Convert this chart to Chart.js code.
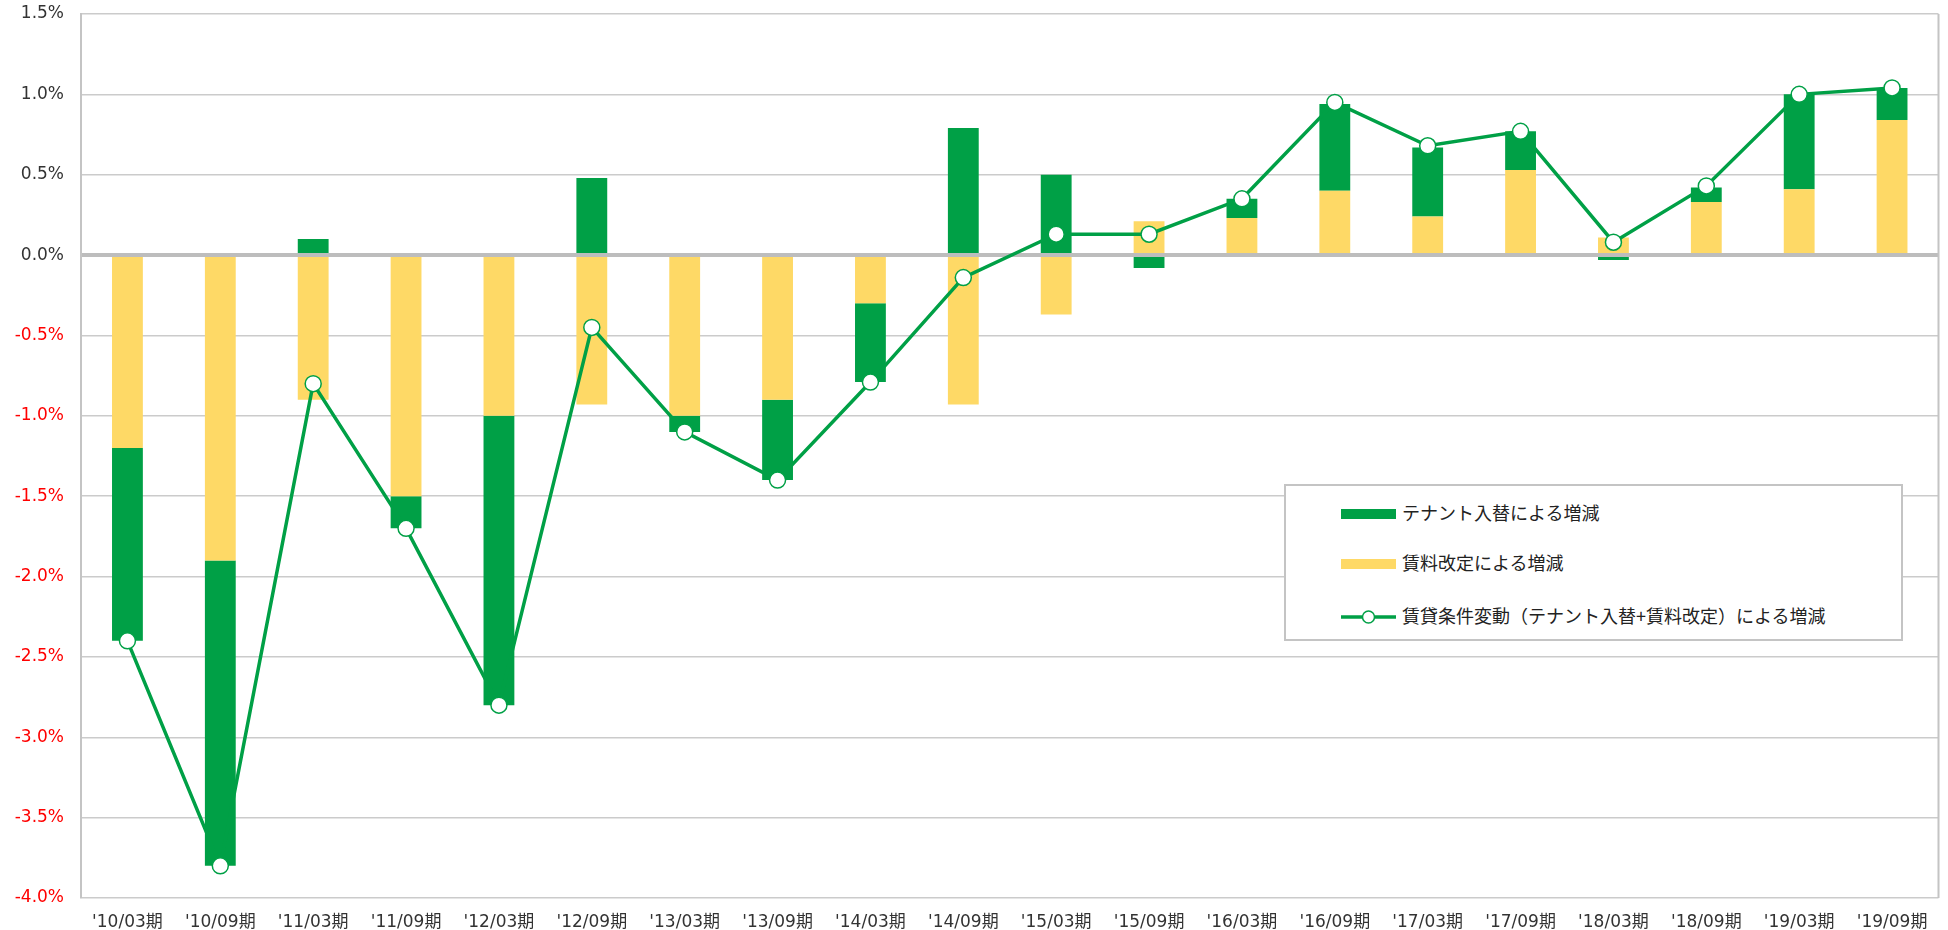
<!DOCTYPE html>
<html lang="ja">
<head>
<meta charset="utf-8">
<title>賃貸条件変動による増減</title>
<script src="https://cdn.jsdelivr.net/npm/chart.js@4.4.1/dist/chart.umd.min.js"></script>
<style>
  html, body { margin: 0; padding: 0; background: #fff; }
  #wrap { position: relative; width: 1948px; height: 930px; }
  #legendBox {
    position: absolute; left: 1284px; top: 484px; width: 615px; height: 153px;
    border: 2px solid #c4c4c4; background: #fff;
    font-family: 'Noto Sans CJK JP', sans-serif; font-size: 18px; color: #222;
  }
  .item { position: absolute; left: 55px; height: 24px; line-height: 24px; white-space: nowrap; }
  .item .sw { display: inline-block; width: 55px; height: 10px; vertical-align: middle; margin-right: 6px; position: relative; top: -1px; }
  .item .ln { display: inline-block; width: 55px; height: 16px; vertical-align: middle; margin-right: 6px; position: relative; top: -1px; }
</style>
</head>
<body>
<div id="wrap">
  <canvas id="chart" width="1948" height="930"></canvas>
  <div id="legendBox"></div>
</div>
<script>
// 0. データ（単位：%）
let kikan = ["'10/03期", "'10/09期", "'11/03期", "'11/09期", "'12/03期", "'12/09期", "'13/03期", "'13/09期", "'14/03期", "'14/09期",
             "'15/03期", "'15/09期", "'16/03期", "'16/09期", "'17/03期", "'17/09期", "'18/03期", "'18/09期", "'19/03期", "'19/09期"];
// テナント入替による増減
let tenant = [-1.2, -1.9, 0.10, -0.2, -1.8, 0.48, -0.10, -0.5, -0.49, 0.79, 0.50, -0.08, 0.12, 0.54, 0.43, 0.24, -0.03, 0.09, 0.59, 0.20];
// 賃料改定による増減
let chinryou = [-1.2, -1.9, -0.9, -1.5, -1.0, -0.93, -1.0, -0.9, -0.3, -0.93, -0.37, 0.21, 0.23, 0.40, 0.24, 0.53, 0.11, 0.33, 0.41, 0.84];
// 賃貸条件変動（合計）
let goukei = [-2.4, -3.8, -0.8, -1.7, -2.8, -0.45, -1.1, -1.4, -0.79, -0.14, 0.13, 0.13, 0.35, 0.95, 0.68, 0.77, 0.08, 0.43, 1.0, 1.04];
let yTicks = [-4.0, -3.5, -3.0, -2.5, -2.0, -1.5, -1.0, -0.5, 0.0, 0.5, 1.0, 1.5];

let labelTenant = 'テナント入替による増減';
let labelChinryou = '賃料改定による増減';
let labelGoukei = '賃貸条件変動（テナント入替+賃料改定）による増減';

let green = '#00a046';
let yellow = '#fed966';
let gridGray = '#cbcbcb';

// 1. 描画エリアの枠線（右側）
let borderPlugin = {
  id: 'areaBorder',
  beforeDatasetsDraw: function(chart) {
    let a = chart.chartArea;
    let c = chart.ctx;
    c.save();
    c.strokeStyle = '#c4c4c4';
    c.lineWidth = 2;
    c.beginPath();
    c.moveTo(a.right, a.top);
    c.lineTo(a.right, a.bottom);
    c.stroke();
    c.restore();
  }
};

// 2. グラフ作成
let ctx = document.getElementById('chart');
let myChart = new Chart(ctx, {
  type: 'bar',
  data: {
    labels: kikan,
    datasets: [
      { type: 'bar', label: labelChinryou, data: chinryou, backgroundColor: yellow, stack: 'a', order: 1,
        categoryPercentage: 1.0, barPercentage: 0.332 },
      { type: 'bar', label: labelTenant, data: tenant, backgroundColor: green, stack: 'a', order: 1,
        categoryPercentage: 1.0, barPercentage: 0.332 },
      { type: 'line', label: labelGoukei, data: goukei, borderColor: green, borderWidth: 3.5,
        pointRadius: 8, pointHoverRadius: 8, pointBackgroundColor: '#fff', pointBorderColor: green,
        pointBorderWidth: 1.5, tension: 0, stack: 'line', order: 0 }
    ]
  },
  options: {
    responsive: false,
    animation: false,
    layout: { padding: { left: 0, right: 8, top: 14, bottom: 0 } },
    plugins: {
      legend: { display: false },
      tooltip: { enabled: false }
    },
    scales: {
      x: {
        stacked: true,
        grid: { display: false },
        border: { display: false },
        ticks: {
          color: '#333', padding: 6, maxRotation: 0, autoSkip: false,
          font: { family: "'DejaVu Sans', 'Noto Sans CJK JP'", size: 17 }
        },
        afterFit: function(scale) { scale.height = 32; }
      },
      y: {
        stacked: true,
        min: -4.0,
        max: 1.5,
        afterBuildTicks: function(scale) { scale.ticks = yTicks.map(v => ({ value: v })); },
        grid: {
          drawTicks: false,
          color: function(c) { return c.tick && c.tick.value === 0 ? '#bdbdbd' : gridGray; },
          lineWidth: function(c) { return c.tick && c.tick.value === 0 ? 4 : 1.5; }
        },
        border: { display: true, color: '#c4c4c4', width: 2 },
        ticks: {
          padding: 17,
          color: function(c) { return c.tick.value < 0 ? '#ff0000' : '#333'; },
          font: { family: "'DejaVu Sans'", size: 17 },
          callback: function(v) { return v.toFixed(1) + '%'; }
        },
        // ラベルの余白で上端が下がらないようにする
        afterFit: function(scale) { scale.width = 81; scale.paddingTop = 0; scale.paddingBottom = 0; }
      }
    }
  },
  plugins: [borderPlugin]
});

// 3. 凡例（グラフ内の枠付き凡例）
let legendBox = document.getElementById('legendBox');
let rows = [
  { text: labelTenant, kind: 'bar', color: green, top: 14 },
  { text: labelChinryou, kind: 'bar', color: yellow, top: 64 },
  { text: labelGoukei, kind: 'line', color: green, top: 117 }
];
for (let i = 0; i < rows.length; i++) {
  let r = rows[i];
  let div = document.createElement('div');
  div.className = 'item';
  div.style.top = r.top + 'px';
  let sw;
  if (r.kind === 'bar') {
    sw = '<span class="sw" style="background:' + r.color + '"></span>';
  } else {
    sw = '<svg class="ln" viewBox="0 0 55 16"><line x1="0" y1="8" x2="55" y2="8" stroke="' + r.color + '" stroke-width="3.5"/>' +
         '<circle cx="27.5" cy="8" r="6" fill="#fff" stroke="' + r.color + '" stroke-width="1.5"/></svg>';
  }
  div.innerHTML = sw + '<span>' + r.text + '</span>';
  legendBox.appendChild(div);
}
</script>
</body>
</html>
